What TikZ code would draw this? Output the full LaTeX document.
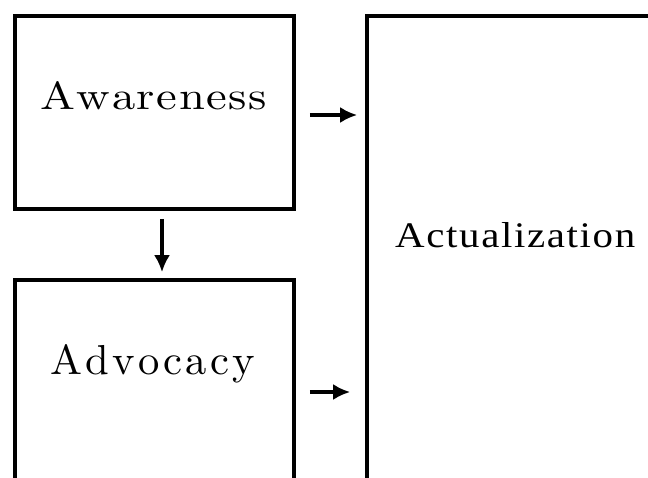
\documentclass[tikz,border=0pt]{standalone}
\usepackage{fontspec}
\usepackage{graphicx}
\usetikzlibrary{arrows.meta}
\newfontfamily\actfont{Liberation Serif}
\tikzset{
  box/.style={draw=black, line width=3.6pt, inner sep=0pt, fill=none},
  lbl/.style={inner sep=0pt, text=black},
  arr/.style={line width=4.2pt, -{Latex[length=17pt,width=16pt]}}
}
\begin{document}
\begin{tikzpicture}[x=1pt,y=-1pt]
\useasboundingbox (0,0) rectangle (648,477);
\fill[white] (0,0) rectangle (648,477);
\clip (0,0) rectangle (648,477);
% boxes
\node[box, minimum width=279pt, minimum height=193pt] (aw) at (154.5,112.5) {};
\node[box, minimum width=279pt, minimum height=240pt] (adv) at (154.5,400) {};
\node[box, minimum width=333pt, minimum height=504pt] (act) at (533.5,268) {};
% labels
\node[lbl, anchor=south west] (awt) at (40,110)
  {\resizebox{227pt}{28pt}{A\kern0.35pt w\kern0.35pt a\kern0.35pt r\kern0.35pt e\kern0.35pt n\kern0.35pt e\kern0.35pt s\kern0.35pt s}};
\node[lbl, anchor=base west] (advt) at (50,374)
  {\resizebox{205pt}{30pt}{A\kern0.8pt d\kern0.8pt v\kern0.8pt o\kern0.8pt c\kern0.8pt a\kern0.8pt c\kern0.8pt y}};
\node[lbl, anchor=base west] (actt) at (395,247)
  {\resizebox{240pt}{25pt}{\actfont\addfontfeature{LetterSpace=4}Actualization}};
% arrows
\coordinate (a1s) at ([xshift=14pt,yshift=-2.5pt]aw.east);
\draw[arr] (a1s) -- ([xshift=-8pt]a1s -| act.west);
\coordinate (a2s) at ([xshift=14pt,yshift=8pt]adv.east);
\draw[arr] (a2s) -- ([xshift=-15pt]a2s -| act.west);
\draw[arr] ([xshift=7.5pt,yshift=-8pt]aw.south) -- ([xshift=7.5pt,yshift=6pt]adv.north);
\end{tikzpicture}
\end{document}
